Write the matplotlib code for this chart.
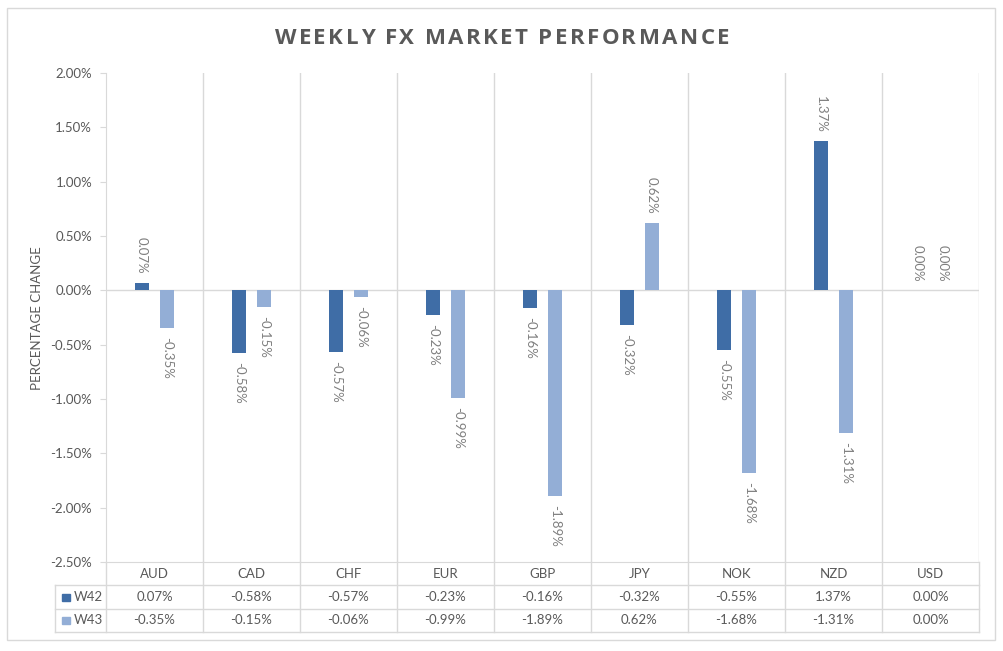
import numpy as np
import matplotlib
matplotlib.use("Agg")
import matplotlib.pyplot as plt
from matplotlib.patches import Rectangle
from matplotlib.ticker import FuncFormatter

# ── DATA ───────────────────────────────────────────────────────────────────────
currencies = ["AUD", "CAD", "CHF", "EUR", "GBP", "JPY", "NOK", "NZD", "USD"]
w42 = [0.07, -0.58, -0.57, -0.23, -0.16, -0.32, -0.55, 1.37, 0.00]
w43 = [-0.35, -0.15, -0.06, -0.99, -1.89, 0.62, -1.68, -1.31, 0.00]
series_names = ["W42", "W43"]
y_ticks = [2.0, 1.5, 1.0, 0.5, 0.0, -0.5, -1.0, -1.5, -2.0, -2.5]
title = "WEEKLY FX MARKET PERFORMANCE"

# ── STYLE ──────────────────────────────────────────────────────────────────────
DARK  = '#3F6DA6'
LIGHT = '#93AED6'
GRID  = '#D9D9D9'
TEXT  = '#595959'
LABEL = '#7F7F7F'
plt.rcParams['font.family'] = ['Lato', 'DejaVu Sans']

W, H = 1004, 651
fig = plt.figure(figsize=(W / 100, H / 100), dpi=100, facecolor='white')

def fx(px):
    return px / W

def fy(py):
    return 1 - py / H

# outer chart border
fig.patches.append(Rectangle((fx(7), fy(640)), fx(988), 632 / H,
                             transform=fig.transFigure, fill=False,
                             edgecolor=GRID, linewidth=1))

# title with letter spacing: place chars one by one
renderer = fig.canvas.get_renderer()
TRACK = 2.4  # px between letters
title_kw = dict(fontsize=16, fontweight='bold', color=TEXT,
                family=['Open Sans', 'DejaVu Sans'], va='center', ha='left')
widths = []
for ch in title:
    t = fig.text(0, 0, ch if ch != ' ' else 'I', **title_kw)
    w = t.get_window_extent(renderer).width
    t.remove()
    widths.append(w * 0.75 if ch == ' ' else w)
total = sum(widths) + TRACK * (len(title) - 1)
xpos = W / 2 - total / 2
for ch, w in zip(title, widths):
    if ch != ' ':
        fig.text(fx(xpos), fy(38), ch, **title_kw)
    xpos += w + TRACK

# ── MAIN PLOT ──────────────────────────────────────────────────────────────────
left, right, top, bottom = 106, 979, 73, 562
ax = fig.add_axes([fx(left), fy(bottom), fx(right - left), (bottom - top) / H])
n = len(currencies)
x = np.arange(n) + 0.5
bw = 0.145
off = 0.13

ax.bar(x - off, w42, width=bw, color=DARK, zorder=3)
ax.bar(x + off, w43, width=bw, color=LIGHT, zorder=3)

for xs, vals in ((x - off, w42), (x + off, w43)):
    for xi, v in zip(xs, vals):
        pos = v >= 0
        ax.annotate(f"{v:.2f}%", (xi, v), xytext=(0, 6.5 if pos else -6.5),
                    textcoords='offset points', rotation=-90,
                    ha='center', va='bottom' if pos else 'top',
                    fontsize=9.5, color=LABEL, zorder=4)

ax.set_xlim(0, n)
ax.set_ylim(-2.5, 2.0)
ax.set_yticks(y_ticks)
ax.yaxis.set_major_formatter(FuncFormatter(lambda v, p: f"{v:.2f}%"))
ax.tick_params(axis='y', labelsize=9.5, labelcolor=TEXT, color=GRID,
               length=4, pad=6)
ax.set_xticks([])
for xv in range(1, n + 1):
    ax.axvline(xv, color=GRID, linewidth=1, zorder=1)
ax.axhline(0, color=GRID, linewidth=1, zorder=2)
for side in ('top', 'right'):
    ax.spines[side].set_visible(False)
ax.spines['bottom'].set_color(GRID)
ax.spines['left'].set_color(GRID)

fig.text(fx(37), fy(318), "PERCENTAGE CHANGE", rotation=90,
         ha='center', va='center', fontsize=9.5, color=TEXT)

# ── DATA TABLE ─────────────────────────────────────────────────────────────────
tleft, tbottom = 55, 632
key_w = (left - tleft) / ((right - left) / n)
tax = fig.add_axes([fx(tleft), fy(tbottom), fx(right - tleft), (tbottom - bottom) / H])
tax.set_xlim(-key_w, n)
tax.set_ylim(3, 0)
tax.axis('off')

for xv in range(0, n + 1):
    tax.plot([xv, xv], [0, 3], color=GRID, linewidth=1, clip_on=False)
tax.plot([-key_w, -key_w], [1, 3], color=GRID, linewidth=1, clip_on=False)
for yv in (1, 2, 3):
    tax.plot([-key_w, n], [yv, yv], color=GRID, linewidth=1, clip_on=False)

for i, c in enumerate(currencies):
    tax.text(i + 0.5, 0.5, c, ha='center', va='center', fontsize=9.5, color=TEXT)
    tax.text(i + 0.5, 1.5, f"{w42[i]:.2f}%", ha='center', va='center',
             fontsize=9.5, color=TEXT)
    tax.text(i + 0.5, 2.5, f"{w43[i]:.2f}%", ha='center', va='center',
             fontsize=9.5, color=TEXT)

for row, (name, col) in enumerate(zip(series_names, (DARK, LIGHT))):
    tax.add_patch(Rectangle((-key_w + 0.075, row + 1.35), 0.075, 0.3,
                            color=col, clip_on=False))
    tax.text(-key_w + 0.19, row + 1.5, name, ha='left', va='center',
             fontsize=9.5, color=TEXT)

plt.savefig('out.png', dpi=100, facecolor='white')
plt.close()
